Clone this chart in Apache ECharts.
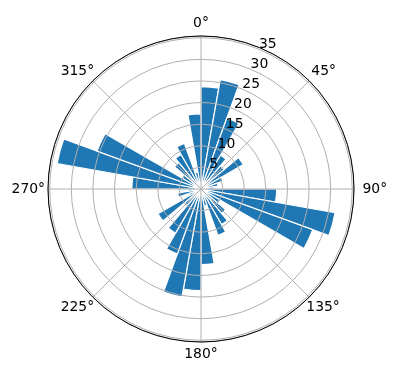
<!DOCTYPE html>
<html>
<head>
<meta charset="utf-8">
<script src="https://cdn.jsdelivr.net/npm/echarts@6/dist/echarts.min.js"></script>
<style>
html,body{margin:0;padding:0;background:#fff;}
#c{width:396px;height:380px;}
</style>
</head>
<body>
<div id="c"></div>
<script>
// 36 direction bins of 10 degrees, clockwise from north
const binLabels = Array.from({length: 36}, (_, i) => String(i * 10));
const barValues = [23.7, 25.7, 17.5, 9, 7, 11.3, 5.4, 4, 3,
                   17.5, 31.5, 27.5, 5, 7.4, 9.5, 11.4, 4, 17.5,
                   23.5, 25.4, 16, 11.8, 5, 11.5, 3, 5.5, 3,
                   16, 33.8, 25.6, 5, 8, 9.2, 11.2, 4, 17.4];
const angleTicks = [0, 45, 90, 135, 180, 225, 270, 315];
const radiusTicks = [5, 10, 15, 20, 25, 30, 35];
const rMax = 35.4;

const chart = echarts.init(document.getElementById('c'), null, {renderer: 'canvas'});
const font = 'DejaVu Sans';
const center = [201, 189];
const R = 153;
const gridColor = '#b0b0b0';
const txt = {color: '#000', fontFamily: font, fontSize: 13.9, lineHeight: 16};
// label padding (top, right, bottom, left) so that every angle label sits centred on one ring
const pads = {
  0: [0, 0, 16.5, 0], 45: [0, 0, 8, 5], 90: [0, 0, 0, 12.5], 135: [10, 0, 0, 0],
  180: [16.5, 0, 0, 0], 225: [10, 1.5, 0, 0], 270: [0, 7, 0, 0], 315: [0, 1.5, 8, 0]
};
const rich = {};
angleTicks.forEach(a => { rich['a' + a] = Object.assign({padding: pads[a]}, txt); });

chart.setOption({
  animation: false,
  backgroundColor: '#fff',
  polar: [
    {center: center, radius: R},
    {center: center, radius: R},
    {center: center, radius: R}
  ],
  angleAxis: [
    {polarIndex: 0, type: 'category', data: binLabels, startAngle: 90, clockwise: true,
     boundaryGap: true, show: false},
    {polarIndex: 1, type: 'value', min: 0, max: 360, interval: 45, startAngle: 90, clockwise: true, z: 10,
     axisLine: {show: true, lineStyle: {color: '#000', width: 1}},
     axisTick: {show: false},
     axisLabel: {show: true, margin: -4, color: '#000', fontFamily: font, fontSize: 13.9, lineHeight: 16,
       formatter: v => (angleTicks.indexOf(v) >= 0 && v < 360 ? '{a' + v + '|' + v + '°}' : ''),
       rich: rich},
     splitLine: {show: true, lineStyle: {color: gridColor, width: 1}}},
    {polarIndex: 2, type: 'value', min: 0, max: 360, startAngle: 67.5, clockwise: true, show: false}
  ],
  radiusAxis: [
    {polarIndex: 0, type: 'value', min: 0, max: rMax, show: false},
    {polarIndex: 1, type: 'value', min: 0, max: rMax, interval: 5, z: 10,
     axisLine: {show: false}, axisTick: {show: false}, axisLabel: {show: false},
     splitLine: {show: true, lineStyle: {color: gridColor, width: 1}}},
    {polarIndex: 2, type: 'value', min: 0, max: rMax, interval: 5, z: 11,
     axisLine: {show: false}, axisTick: {show: false}, splitLine: {show: false},
     axisLabel: {show: true, margin: 0, color: '#000', fontFamily: font, fontSize: 13.9,
       align: 'left', verticalAlign: 'bottom', lineHeight: 10,
       formatter: v => (radiusTicks.indexOf(v) >= 0 ? String(v) : '')}}
  ],
  series: [{
    type: 'bar',
    coordinateSystem: 'polar',
    polarIndex: 0,
    data: barValues,
    barCategoryGap: '0%',
    itemStyle: {color: '#1f77b4', borderColor: '#fff', borderWidth: 1.2},
    z: 2
  }]
});
</script>
</body>
</html>
